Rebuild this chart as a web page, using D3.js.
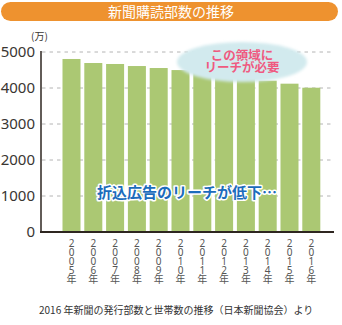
<!DOCTYPE html>
<html>
<head>
<meta charset="utf-8">
<script src="https://cdn.jsdelivr.net/npm/d3@7"></script>
<style>
body { margin: 0; background: #fff; }
svg { display: block; font-family: "Noto Sans CJK JP", "Noto Sans", sans-serif; }
</style>
</head>
<body>
<div class="chart"></div>
<script>
// data (万部)
var years = ["2005", "2006", "2007", "2008", "2009", "2010", "2011", "2012", "2013", "2014", "2015", "2016"];
var copies = [4806, 4694, 4667, 4610, 4555, 4498, 4440, 4370, 4305, 4203, 4120, 4008];
var yTicks = [0, 1000, 2000, 3000, 4000, 5000];

var title = "新聞購読部数の推移";
var note = "2016 年新聞の発行部数と世帯数の推移（日本新聞協会）より";
var bubbleLines = ["この領域に", "リーチが必要"];
var blueText = "折込広告のリーチが低下…";

var W = 342, H = 325;
var svg = d3.select(".chart").append("svg")
  .attr("width", W)
  .attr("height", H);

var defs = svg.append("defs");
defs.append("filter").attr("id", "soft")
  .attr("x", "-20%").attr("y", "-40%").attr("width", "140%").attr("height", "180%")
  .append("feGaussianBlur").attr("stdDeviation", 1.8);

// title bar
svg.append("rect")
  .attr("x", 1).attr("y", 2)
  .attr("width", 337).attr("height", 19)
  .attr("rx", 9.5)
  .attr("fill", "#ee922f");
svg.append("text")
  .attr("x", 171).attr("y", 16.5)
  .attr("text-anchor", "middle")
  .attr("fill", "#fff")
  .style("font-size", "14px")
  .text(title);

var x = d3.scaleBand()
  .domain(years)
  .range([60.6, 322.2])
  .paddingInner(0.174)
  .paddingOuter(0.087);
var y = d3.scaleLinear()
  .domain([0, 5000])
  .range([232, 52]);

// grid
svg.append("g").selectAll("line")
  .data(yTicks.slice(1))
  .enter().append("line")
  .attr("x1", 42).attr("x2", 334)
  .attr("y1", function(d) { return y(d); })
  .attr("y2", function(d) { return y(d); })
  .attr("stroke", "#b4b4b4")
  .attr("stroke-width", 1)
  .attr("stroke-dasharray", "3.5,4");

// bars
svg.append("g").selectAll(".bar")
  .data(copies)
  .enter().append("rect")
  .attr("class", "bar")
  .attr("x", function(d, i) { return x(years[i]); })
  .attr("width", x.bandwidth())
  .attr("y", function(d) { return y(d); })
  .attr("height", function(d) { return y(0) - y(d); })
  .attr("fill", "#abc873");

// y axis
var yAxis = svg.append("g")
  .attr("transform", "translate(41,0)")
  .call(d3.axisLeft(y).tickValues(yTicks).tickSize(0).tickPadding(6).tickFormat(d3.format("d")));
yAxis.select(".domain").remove();
yAxis.selectAll("text")
  .attr("fill", "#3a3632")
  .style("font-size", "15px")
  .style("font-family", "'Noto Sans', sans-serif");

svg.append("line")
  .attr("x1", 41).attr("x2", 41)
  .attr("y1", y(5000) - 1).attr("y2", y(0))
  .attr("stroke", "#2e2620").attr("stroke-width", 1.5);
svg.append("line")
  .attr("x1", 40).attr("x2", 334)
  .attr("y1", y(0)).attr("y2", y(0))
  .attr("stroke", "#2e2620").attr("stroke-width", 2);

svg.append("text")
  .attr("x", 31).attr("y", 40)
  .attr("fill", "#3a3632")
  .style("font-size", "10px")
  .text("(万)");

// x labels, one character per line
var xl = svg.append("g").selectAll("text")
  .data(years)
  .enter().append("text")
  .attr("text-anchor", "middle")
  .attr("fill", "#555")
  .style("font-size", "10px")
  .style("font-family", "'Noto Sans', 'Noto Sans CJK JP', sans-serif");
xl.each(function(d) {
  var t = d3.select(this);
  var chars = (d + "年").split("");
  chars.forEach(function(c, j) {
    t.append("tspan")
      .attr("x", x(d) + x.bandwidth() / 2)
      .attr("y", 246.5 + j * 9.2)
      .text(c);
  });
});

// bubble
svg.append("ellipse")
  .attr("cx", 242).attr("cy", 62)
  .attr("rx", 65).attr("ry", 20)
  .attr("fill", "#d2eaee")
  .attr("filter", "url(#soft)");
svg.append("g").selectAll("text")
  .data(bubbleLines)
  .enter().append("text")
  .attr("x", 242)
  .attr("y", function(d, i) { return 59.5 + i * 12; })
  .attr("text-anchor", "middle")
  .attr("fill", "#ef5a80")
  .style("font-size", "12.5px")
  .style("font-weight", "bold")
  .text(function(d) { return d; });

// blue caption
svg.append("text")
  .attr("x", 187).attr("y", 198)
  .attr("text-anchor", "middle")
  .attr("fill", "#1c6cbc")
  .attr("stroke", "#fff")
  .attr("stroke-width", 3)
  .attr("stroke-linejoin", "round")
  .attr("paint-order", "stroke")
  .style("font-size", "15px")
  .style("font-weight", "bold")
  .text(blueText);

// source note
svg.append("text")
  .attr("x", 39).attr("y", 314)
  .attr("fill", "#333")
  .style("font-size", "10px")
  .text(note);
</script>
</body>
</html>
